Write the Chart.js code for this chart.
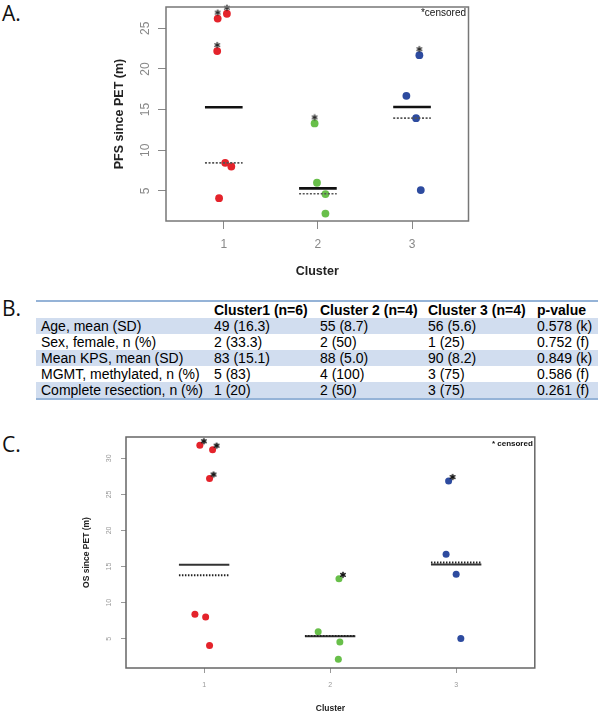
<!DOCTYPE html>
<html>
<head>
<meta charset="utf-8">
<script src="https://cdn.jsdelivr.net/npm/chart.js@4.4.1/dist/chart.umd.min.js"></script>
<style>
html, body { margin: 0; padding: 0; background: #fff; }
body { width: 600px; height: 719px; position: relative; overflow: hidden; font-family: "Liberation Sans", Arial, Helvetica, sans-serif; }
.panel { position: absolute; left: 2px; font-family: "Open Sans", "Noto Sans", sans-serif; font-size: 21px; line-height: 21px; color: #111; }
canvas { position: absolute; left: 0; }
#chartA { top: 0; }
#chartC { top: 430px; }
#tbl { position: absolute; left: 36px; top: 300px; width: 562px; border-collapse: collapse; table-layout: fixed; font-size: 14px; color: #000;
       border-top: 2px solid #95b3d7; border-bottom: 2px solid #95b3d7; }
#tbl td { height: 16px; line-height: 16px; padding: 0 0 0 5px; white-space: nowrap; overflow: visible; }
#tbl tr.hd td { font-weight: bold; }
#tbl tr.sh td { background: #d1ddef; }
</style>
</head>
<body>
<div class="panel" style="top:3px">A.</div>
<div class="panel" style="top:298px">B.</div>
<div class="panel" style="top:434px">C.</div>
<canvas id="chartA" width="600" height="290"></canvas>
<table id="tbl">
  <colgroup><col style="width:173px"><col style="width:106px"><col style="width:108px"><col style="width:109px"><col style="width:66px"></colgroup>
  <tbody id="tblBody"></tbody>
</table>
<canvas id="chartC" width="600" height="289"></canvas>
<script>
Chart.defaults.font.family = '"Liberation Sans", Arial, Helvetica, sans-serif';

// clusters
const clusterIds = [1, 2, 3];
const clusterColors = ['#e4232b', '#68bf4a', '#2d4b9f'];
const xTicks = [1, 2, 3];

// A. PFS since PET (months), x = jittered cluster position
const pfsCluster  = [1, 1, 1, 1, 1, 1, 2, 2, 2, 2, 3, 3, 3, 3];
const pfsJitterX  = [0.935, 1.033, 0.93, 1.015, 1.08, 0.95, 1.965, 1.99, 2.08, 2.08, 3.078, 2.94, 3.043, 3.093];
const pfsMonths   = [26.2, 26.8, 22.2, 8.45, 8.0, 4.1, 13.3, 6.0, 4.6, 2.2, 21.7, 16.7, 13.95, 5.1];
const pfsCensored = [1, 1, 1, 0, 0, 0, 1, 0, 0, 0, 1, 0, 0, 0];
const pfsSolid    = [15.3, 5.3, 15.32];
const pfsDotted   = [8.45, 4.65, 13.95];
const pfsYTicks   = [5, 10, 15, 20, 25];

// C. OS since PET (months)
const osCluster  = [1, 1, 1, 1, 1, 1, 2, 2, 2, 2, 3, 3, 3, 3];
const osJitterX  = [0.966, 1.067, 1.043, 0.927, 1.012, 1.043, 2.07, 1.905, 2.077, 2.065, 2.94, 2.92, 3.0, 3.037];
const osMonths   = [31.8, 31.2, 27.2, 8.38, 8.0, 4.08, 13.3, 5.97, 4.54, 2.15, 26.84, 16.69, 13.92, 5.05];
const osCensored = [1, 1, 1, 0, 0, 0, 1, 0, 0, 0, 1, 0, 0, 0];
const osSolid    = [15.25, 5.35, 15.3];
const osDotted   = [13.8, 5.37, 15.55];
const osYTicks   = [5, 10, 15, 20, 25, 30];

// B. table
const tableHead   = ['', 'Cluster1 (n=6)', 'Cluster 2 (n=4)', 'Cluster 3 (n=4)', 'p-value'];
const rowLabels   = ['Age, mean (SD)', 'Sex, female, n (%)', 'Mean KPS, mean (SD)', 'MGMT, methylated, n (%)', 'Complete resection, n (%)'];
const cluster1Col = ['49 (16.3)', '2 (33.3)', '83 (15.1)', '5 (83)', '1 (20)'];
const cluster2Col = ['55 (8.7)', '2 (50)', '88 (5.0)', '4 (100)', '2 (50)'];
const cluster3Col = ['56 (5.6)', '1 (25)', '90 (8.2)', '3 (75)', '3 (75)'];
const pValueCol   = ['0.578 (k)', '0.752 (f)', '0.849 (k)', '0.586 (f)', '0.261 (f)'];

// table
(function buildTable() {
    const body = document.getElementById('tblBody');
    let html = '<tr class="hd">' + tableHead.map(t => `<td>${t}</td>`).join('') + '</tr>';
    rowLabels.forEach((lab, i) => {
        const cls = i % 2 === 0 ? 'sh' : '';
        html += `<tr class="${cls}"><td>${lab}</td><td>${cluster1Col[i]}</td><td>${cluster2Col[i]}</td><td>${cluster3Col[i]}</td><td>${pValueCol[i]}</td></tr>`;
    });
    body.innerHTML = html;
})();

// asterisk marker, drawn off-centre inside a small image so it sits beside the point
function starImage(w, h, cx, cy, r, lw, color) {
    const c = document.createElement('canvas');
    c.width = w; c.height = h;
    const g = c.getContext('2d');
    g.strokeStyle = color; g.lineWidth = lw; g.lineCap = 'round';
    for (let k = 0; k < 3; k++) {
        const a = Math.PI / 2 + k * Math.PI / 3;
        g.beginPath();
        g.moveTo(cx - r * Math.cos(a), cy - r * Math.sin(a));
        g.lineTo(cx + r * Math.cos(a), cy + r * Math.sin(a));
        g.stroke();
    }
    return c;
}

const plotBox = {
    id: 'plotBox',
    afterDatasetsDraw(chart, args, o) {
        const { ctx, chartArea: a } = chart;
        ctx.save();
        ctx.strokeStyle = o.color;
        ctx.lineWidth = o.width;
        ctx.strokeRect(a.left, a.top, a.right - a.left, a.bottom - a.top);
        ctx.fillStyle = '#111';
        ctx.font = o.noteFont;
        ctx.textAlign = 'right';
        ctx.textBaseline = 'middle';
        ctx.fillText(o.note, a.right - o.noteDx, a.top + o.noteDy);
        ctx.restore();
    }
};

function stripDatasets(cluster, xs, ys, censored, solid, dotted, st) {
    const sets = [];
    clusterIds.forEach((c, i) => {
        const pts = [];
        ys.forEach((y, j) => { if (cluster[j] === c) pts.push({ x: xs[j], y: y }); });
        sets.push({ data: pts, backgroundColor: clusterColors[i], pointRadius: st.r, borderWidth: 0, clip: false, order: 3 });
        sets.push({ data: [{ x: c - 0.2, y: solid[i] }, { x: c + 0.2, y: solid[i] }], showLine: true, pointRadius: 0,
                    borderColor: st.solidColor, borderWidth: st.solidW, clip: false, order: 1 });
        sets.push({ data: [{ x: c - 0.2, y: dotted[i] }, { x: c + 0.2, y: dotted[i] }], showLine: true, pointRadius: 0,
                    borderColor: st.dotColor, borderWidth: st.dotW, borderDash: st.dash, clip: false, order: 0 });
    });
    const cens = [];
    ys.forEach((y, j) => { if (censored[j]) cens.push({ x: xs[j], y: y }); });
    sets.push({ data: cens, pointStyle: st.star, pointRadius: 6, clip: false, order: 2 });
    return sets;
}

function stripOptions(p) {
    return {
        responsive: false, animation: false, devicePixelRatio: 1,
        layout: { padding: { left: 0, top: p.top, right: p.right, bottom: 0 } },
        plugins: {
            legend: { display: false }, tooltip: { enabled: false },
            plotBox: { color: p.boxColor, width: p.boxW, note: p.note, noteFont: p.noteFont, noteDx: p.noteDx, noteDy: p.noteDy }
        },
        scales: {
            x: {
                type: 'linear', min: p.xMin, max: p.xMax,
                afterBuildTicks: s => { s.ticks = xTicks.map(v => ({ value: v })); },
                afterFit: s => { s.height = p.xAxisH; s.paddingLeft = 0; s.paddingRight = 0; },
                border: { display: false },
                grid: { drawOnChartArea: false, tickLength: p.tl, color: p.tickColor, tickColor: p.tickColor, tickWidth: 1 },
                ticks: { color: p.tickColor, font: { size: p.tickSize }, padding: p.xPad },
                title: { display: true, text: 'Cluster', color: '#222', font: { size: p.titleSize, weight: 'bold' }, padding: { top: 0, bottom: p.xTitlePad } }
            },
            y: {
                min: p.yMin, max: p.yMax,
                afterBuildTicks: s => { s.ticks = p.yTicks.map(v => ({ value: v })); },
                afterFit: s => { s.width = p.yAxisW; s.paddingTop = 0; s.paddingBottom = 0; },
                border: { display: false },
                grid: { drawOnChartArea: false, tickLength: p.tl, color: p.tickColor, tickColor: p.tickColor, tickWidth: 1 },
                ticks: { color: p.tickColor, font: { size: p.tickSize }, padding: p.yPad, minRotation: 90, maxRotation: 90, crossAlign: 'center' },
                title: { display: true, text: p.yTitle, color: '#222', font: { size: p.titleSize, weight: 'bold' }, padding: { top: p.yTitlePad, bottom: 0 } }
            }
        }
    };
}

new Chart(document.getElementById('chartA'), {
    type: 'scatter',
    data: { datasets: stripDatasets(pfsCluster, pfsJitterX, pfsMonths, pfsCensored, pfsSolid, pfsDotted, {
        r: 3.9, solidColor: '#111', solidW: 2.6, dotColor: '#555', dotW: 1.6, dash: [2, 1.6],
        star: starImage(12, 20, 6, 4, 2.6, 1.3, '#222')
    }) },
    options: stripOptions({
        top: 1, right: 131.5, xMin: 0.386, xMax: 3.6, yMin: 1.29, yMax: 27.63, yTicks: pfsYTicks,
        xAxisH: 69, yAxisW: 166, tl: 8, tickColor: '#888', tickSize: 12, xPad: 8, yPad: 6,
        titleSize: 12.5, xTitlePad: 11, yTitlePad: 112, yTitle: 'PFS since PET (m)',
        boxColor: '#777', boxW: 1.5, note: '*censored', noteFont: '10px "Liberation Sans", Arial, sans-serif', noteDx: 2.5, noteDy: 6
    }),
    plugins: [plotBox]
});

new Chart(document.getElementById('chartC'), {
    type: 'scatter',
    data: { datasets: stripDatasets(osCluster, osJitterX, osMonths, osCensored, osSolid, osDotted, {
        r: 3.5, solidColor: '#333', solidW: 2, dotColor: '#222', dotW: 2, dash: [1.5, 1.5],
        star: starImage(16, 16, 12, 4, 2.6, 1.5, '#111')
    }) },
    options: stripOptions({
        top: 6.7, right: 65.2, xMin: 0.38, xMax: 3.624, yMin: 0.946, yMax: 32.95, yTicks: osYTicks,
        xAxisH: 51, yAxisW: 126, tl: 5, tickColor: '#999', tickSize: 7, xPad: 8, yPad: 8,
        titleSize: 8.5, xTitlePad: 5, yTitlePad: 82, yTitle: 'OS since PET (m)',
        boxColor: '#666', boxW: 1.5, note: '* censored', noteFont: 'bold 8px "Liberation Sans", Arial, sans-serif', noteDx: 2, noteDy: 6.3
    }),
    plugins: [plotBox]
});
</script>
</body>
</html>
